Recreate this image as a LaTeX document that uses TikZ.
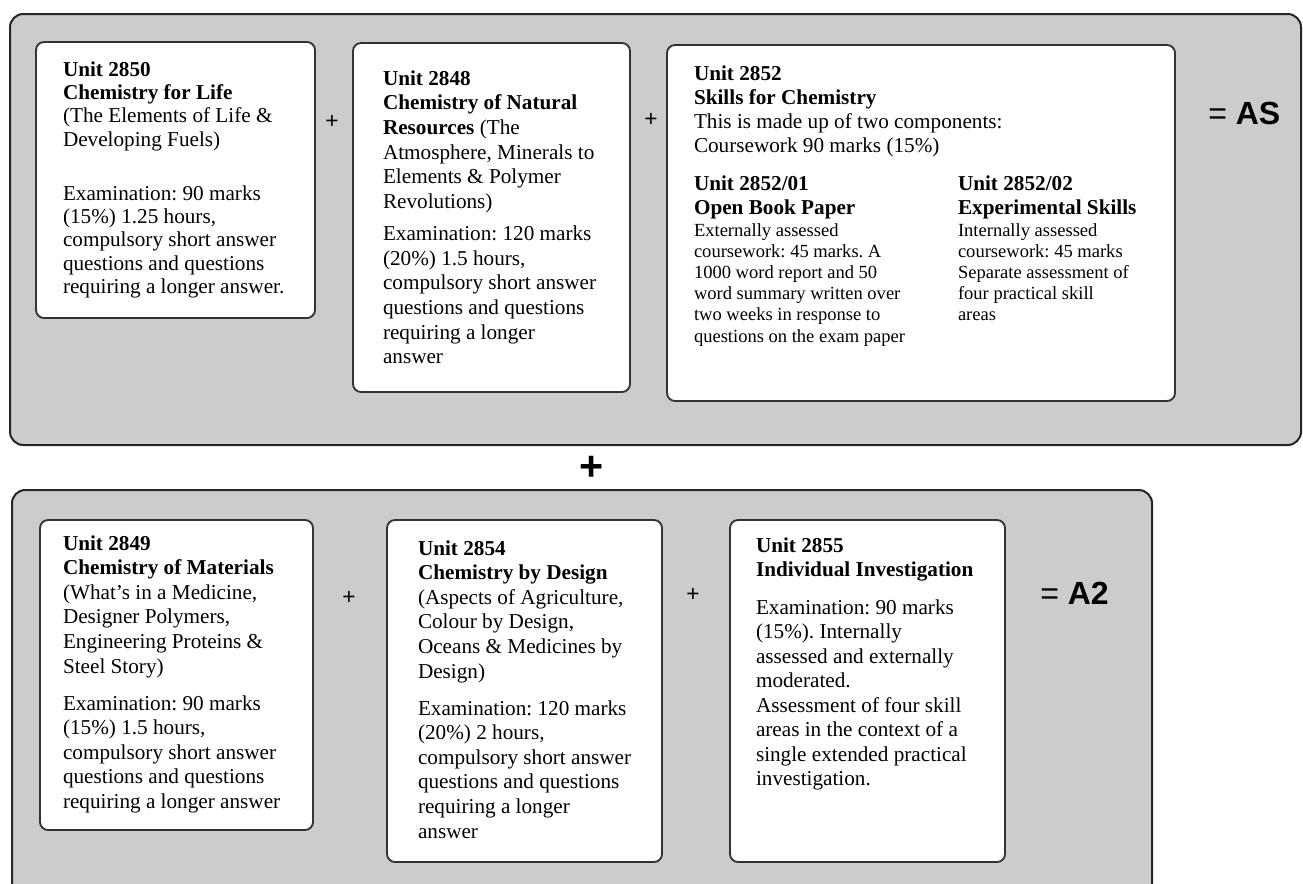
\documentclass[tikz,border=0pt]{standalone}
\usepackage{fontspec}
\setmainfont{Liberation Serif}
\newfontfamily\sansf{Liberation Sans}
\newlength\pxu
\setlength\pxu{0.75pt}
\newcommand\txtA[2]{\fontsize{#1}{#2}\selectfont\frenchspacing}
\usetikzlibrary{calc}
\begin{document}
\begin{tikzpicture}[x=0.75pt,y=-0.75pt,
  panel/.style={draw=black!85, line width=1.5pt, fill=black!20, rounded corners=10pt, inner sep=0pt},
  unitbox/.style={draw=black!80, line width=1.4pt, fill=white, rounded corners=6pt, inner sep=0pt},
  txt/.style={anchor=base west, inner sep=0pt, outer sep=0pt},
  plusS/.style={font=\sansf\fontsize{17pt}{17pt}\selectfont, inner sep=0pt},
  plusB/.style={font=\sansf\bfseries\fontsize{31pt}{31pt}\selectfont, inner sep=0pt},
  result/.style={anchor=base west, inner sep=0pt, font=\sansf\fontsize{24pt}{24pt}\selectfont}
]
\useasboundingbox (0,0) rectangle (1303,883);
\clip (0,0) rectangle (1303,883);

% panels
\node[panel, minimum width=1291*0.75pt, minimum height=431*0.75pt] (asPanel) at (655.5,229.5) {};
\node[panel, minimum width=1140*0.75pt, minimum height=430*0.75pt] (a2Panel) at (582,705) {};

% unit boxes (top)
\node[unitbox, minimum width=279*0.75pt, minimum height=276*0.75pt] (b1) at (175.5,180) {};
\node[unitbox, minimum width=277*0.75pt, minimum height=349*0.75pt] (b2) at (491.5,217.5) {};
\node[unitbox, minimum width=508*0.75pt, minimum height=356*0.75pt] (b3) at (921,223) {};
% unit boxes (bottom)
\node[unitbox, minimum width=273*0.75pt, minimum height=310*0.75pt] (b4) at (176.5,675) {};
\node[unitbox, minimum width=275*0.75pt, minimum height=342*0.75pt] (b5) at (524.5,691) {};
\node[unitbox, minimum width=275*0.75pt, minimum height=342*0.75pt] (b6) at (867.5,691) {};

% texts
\node[txt] (t1) at (63,76) {\parbox[t]{270\pxu}{\raggedright\txtA{15.9pt}{17.5pt}%
\textbf{Unit 2850}\\
\textbf{Chemistry for Life}\\
(The Elements of Life \&\\
Developing Fuels)\\[23pt]
Examination: 90 marks\\
(15\%) 1.25 hours,\\
compulsory short answer\\
questions and questions\\
requiring a longer answer.}};

\node[txt] (t2) at (383,85) {\parbox[t]{270\pxu}{\raggedright\txtA{15.9pt}{18.5pt}%
\textbf{Unit 2848}\\
\textbf{Chemistry of Natural}\\
\textbf{Resources} (The\\
Atmosphere, Minerals to\\
Elements \& Polymer\\
Revolutions)\\[5.5pt]
Examination: 120 marks\\
(20\%) 1.5 hours,\\
compulsory short answer\\
questions and questions\\
requiring a longer\\
answer}};

\node[txt] (t3) at (694,80) {\parbox[t]{460\pxu}{\raggedright\txtA{15.9pt}{18pt}%
\textbf{Unit 2852}\\
\textbf{Skills for Chemistry}\\
This is made up of two components:\\
Coursework 90 marks (15\%)}};

\node[txt] (t3ah) at (694,190) {\parbox[t]{250\pxu}{\raggedright\txtA{15.9pt}{18pt}%
\textbf{Unit 2852/01}\\
\textbf{Open Book Paper}}};
\node[txt] (t3ab) at (694,236) {\parbox[t]{250\pxu}{\raggedright\txtA{13.9pt}{15.9pt}%
Externally assessed\\
coursework: 45 marks. A\\
1000 word report and 50\\
word summary written over\\
two weeks in response to\\
questions on the exam paper}};

\node[txt] (t3bh) at (958,190) {\parbox[t]{210\pxu}{\raggedright\txtA{15.9pt}{18pt}%
\textbf{Unit 2852/02}\\
\textbf{Experimental Skills}}};
\node[txt] (t3bb) at (958,236) {\parbox[t]{210\pxu}{\raggedright\txtA{13.9pt}{15.9pt}%
Internally assessed\\
coursework: 45 marks\\
Separate assessment of\\
four practical skill\\
areas}};

\node[txt] (t4) at (63,550) {\parbox[t]{270\pxu}{\raggedright\txtA{15.9pt}{18.45pt}%
\textbf{Unit 2849}\\
\textbf{Chemistry of Materials}\\
(What’s in a Medicine,\\
Designer Polymers,\\
Engineering Proteins \&\\
Steel Story)\\[9.3pt]
Examination: 90 marks\\
(15\%) 1.5 hours,\\
compulsory short answer\\
questions and questions\\
requiring a longer answer}};

\node[txt] (t5) at (418,555) {\parbox[t]{270\pxu}{\raggedright\txtA{15.9pt}{18.45pt}%
\textbf{Unit 2854}\\
\textbf{Chemistry by Design}\\
(Aspects of Agriculture,\\
Colour by Design,\\
Oceans \& Medicines by\\
Design)\\[9.3pt]
Examination: 120 marks\\
(20\%) 2 hours,\\
compulsory short answer\\
questions and questions\\
requiring a longer\\
answer}};

\node[txt] (t6) at (756,552) {\parbox[t]{270\pxu}{\raggedright\txtA{15.9pt}{18.4pt}%
\textbf{Unit 2855}\\
\textbf{Individual Investigation}\\[9.8pt]
Examination: 90 marks\\
(15\%). Internally\\
assessed and externally\\
moderated.\\
Assessment of four skill\\
areas in the context of a\\
single extended practical\\
investigation.}};

% operators
\node[plusS] (p12) at (332,122) {+};
\node[plusS] (p23) at (651,120) {+};
\node[plusS] (p45) at (349,598) {+};
\node[plusS] (p56) at (693,595) {+};
\node[plusB] (pmid) at (592,468) {+};

\node[result] (asRes) at (1208,124) {=~\textbf{AS}};
\node[result] (a2Res) at (1040,604) {=~\textbf{A2}};
\end{tikzpicture}
\end{document}
